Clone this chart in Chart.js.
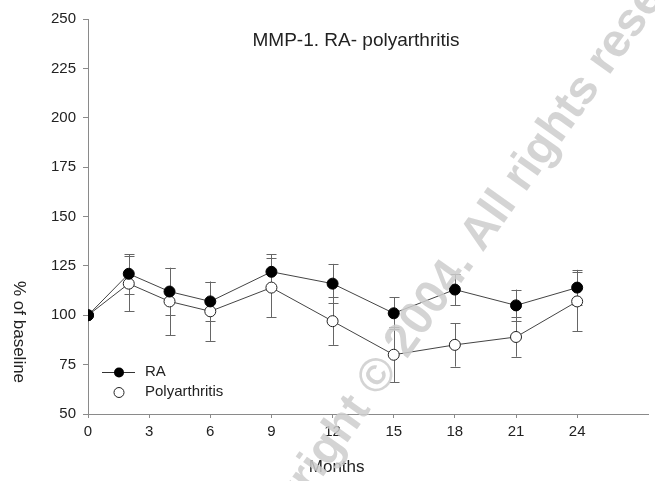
<!DOCTYPE html>
<html>
<head>
<meta charset="utf-8">
<script src="https://cdn.jsdelivr.net/npm/chart.js@4.4.1/dist/chart.umd.min.js"></script>
<style>
  html, body { margin: 0; padding: 0; background: #fff; }
  #wrap { width: 655px; height: 481px; }
</style>
</head>
<body>
<div id="wrap"><canvas id="myChart"></canvas></div>
<script>
// data
const months = [0, 2, 4, 6, 9, 12, 15, 18, 21, 24];
const raMean = [100, 121, 112, 107, 122, 116, 101, 113, 105, 114];
const raErr = [0, 10, 12, 10, 9, 10, 8, 8, 8, 9];
const polyMean = [100, 116, 107, 102, 114, 97, 80, 85, 89, 107];
const polyErr = [0, 14, 17, 15, 15, 12, 14, 11, 10, 15];
const xTicks = [0, 3, 6, 9, 12, 15, 18, 21, 24];

const FONT = "'Liberation Sans', Arial, sans-serif";
const AXIS = '#8a8a8a';
const INK = '#222';

function pts(ys) {
  return months.map((m, i) => ({ x: m, y: ys[i] }));
}

// error bars under the markers
const errorBars = {
  id: 'errorBars',
  beforeDatasetsDraw(chart) {
    const ctx = chart.ctx;
    const xs = chart.scales.x, ys = chart.scales.y;
    const sets = [[raMean, raErr], [polyMean, polyErr]];
    ctx.save();
    ctx.strokeStyle = '#666';
    ctx.lineWidth = 1;
    sets.forEach(([mean, err]) => {
      months.forEach((m, i) => {
        if (!err[i]) return;
        const px = Math.round(xs.getPixelForValue(m)) + 0.5;
        const top = ys.getPixelForValue(mean[i] + err[i]);
        const bot = ys.getPixelForValue(mean[i] - err[i]);
        ctx.beginPath();
        ctx.moveTo(px, top); ctx.lineTo(px, bot);
        ctx.moveTo(px - 5, Math.round(top) + 0.5); ctx.lineTo(px + 5, Math.round(top) + 0.5);
        ctx.moveTo(px - 5, Math.round(bot) + 0.5); ctx.lineTo(px + 5, Math.round(bot) + 0.5);
        ctx.stroke();
      });
    });
    ctx.restore();
  }
};

// titles, legend and watermark
const decor = {
  id: 'decor',
  afterDraw(chart) {
    const ctx = chart.ctx;
    const xs = chart.scales.x, ys = chart.scales.y;
    ctx.save();
    ctx.fillStyle = INK;
    ctx.textBaseline = 'middle';

    ctx.font = '19px ' + FONT;
    ctx.textAlign = 'center';
    ctx.fillText('MMP-1. RA- polyarthritis', 356, 41);

    ctx.font = '17px ' + FONT;
    ctx.fillText('Months', xs.getPixelForValue(12.2), 467);

    ctx.save();
    ctx.translate(19, ys.getPixelForValue(91.5));
    ctx.rotate(Math.PI / 2);
    ctx.fillText('% of baseline', 0, 0);
    ctx.restore();

    // legend
    ctx.strokeStyle = '#333';
    ctx.lineWidth = 1;
    ctx.beginPath();
    ctx.moveTo(102, 372.5); ctx.lineTo(135, 372.5);
    ctx.stroke();
    ctx.beginPath();
    ctx.arc(119, 372.5, 5, 0, Math.PI * 2);
    ctx.fillStyle = '#000';
    ctx.fill();
    ctx.beginPath();
    ctx.arc(119, 392.5, 5, 0, Math.PI * 2);
    ctx.fillStyle = '#fff';
    ctx.fill();
    ctx.strokeStyle = '#222';
    ctx.stroke();
    ctx.fillStyle = INK;
    ctx.textAlign = 'left';
    ctx.font = '15px ' + FONT;
    ctx.fillText('RA', 145, 372);
    ctx.fillText('Polyarthritis', 145, 392);

    // watermark
    ctx.save();
    ctx.translate(232, 582);
    ctx.rotate(-54.5 * Math.PI / 180);
    ctx.font = 'bold 47px ' + FONT;
    ctx.fillStyle = 'rgba(205,205,205,0.85)';
    ctx.textAlign = 'left';
    ctx.fillText('Copyright \u00A9 2004. All rights reserved', 0, 0);
    ctx.restore();

    ctx.restore();
  }
};

const ctx = document.getElementById('myChart');

new Chart(ctx, {
  type: 'line',
  data: {
    datasets: [{
      label: 'RA',
      data: pts(raMean),
      borderColor: '#444',
      borderWidth: 1,
      pointRadius: 5.5,
      pointBackgroundColor: '#000',
      pointBorderColor: '#000',
      pointBorderWidth: 1,
      tension: 0
    }, {
      label: 'Polyarthritis',
      data: pts(polyMean),
      borderColor: '#444',
      borderWidth: 1,
      pointRadius: 5.5,
      pointBackgroundColor: '#fff',
      pointBorderColor: '#222',
      pointBorderWidth: 1,
      tension: 0
    }]
  },
  options: {
    responsive: true,
    maintainAspectRatio: false,
    animation: false,
    layout: { padding: { top: 19, right: 0, left: 0, bottom: 0 } },
    plugins: {
      legend: { display: false },
      tooltip: { enabled: false }
    },
    scales: {
      x: {
        type: 'linear',
        min: 0,
        max: 27.5,
        afterBuildTicks(scale) {
          scale.ticks = xTicks.map(v => ({ value: v }));
        },
        afterFit(scale) { scale.height = 67; },
        grid: { drawOnChartArea: false, drawTicks: true, tickLength: 4, color: AXIS },
        border: { display: true, color: AXIS, width: 1 },
        ticks: { color: INK, font: { family: FONT, size: 15 }, padding: 5, maxRotation: 0, autoSkip: false }
      },
      y: {
        min: 50,
        max: 250,
        afterFit(scale) { scale.width = 88; },
        grid: { drawOnChartArea: false, drawTicks: true, tickLength: 5, color: AXIS },
        border: { display: true, color: AXIS, width: 1 },
        ticks: { stepSize: 25, color: INK, font: { family: FONT, size: 15 }, padding: 7 }
      }
    }
  },
  plugins: [errorBars, decor]
});
</script>
</body>
</html>
